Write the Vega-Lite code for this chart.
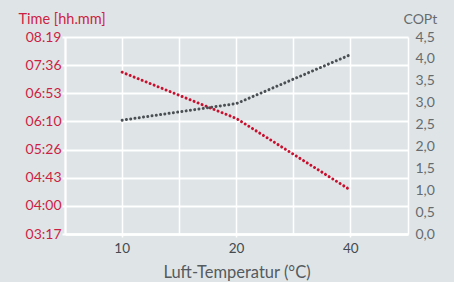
{
  "$schema": "https://vega.github.io/schema/vega-lite/v6.json",
  "width": 343,
  "height": 197,
  "autosize": "none",
  "padding": {"left": 65, "top": 37, "right": 46, "bottom": 48},
  "background": "#dfe5e7",
  "config": {
    "view": {"stroke": null},
    "font": "Lato",
    "axis": {"labelFont": "Lato", "titleFont": "Lato"}
  },
  "data": {
    "values": [
      {"temp": 10, "time": 445, "cop": 2.6},
      {"temp": 20, "time": 374, "cop": 2.98},
      {"temp": 40, "time": 264, "cop": 4.1}
    ]
  },
  "encoding": {
    "x": {
      "field": "temp",
      "type": "ordinal",
      "scale": {"type": "band", "paddingInner": 0, "paddingOuter": 0}
    }
  },
  "layer": [
    {
      "mark": {"type": "line", "color": "#c8102e", "strokeWidth": 3, "strokeCap": "round", "strokeDash": [0.01, 4.3]},
      "encoding": {
        "x": {
          "field": "temp",
          "type": "ordinal",
          "axis": {
            "orient": "bottom",
            "title": "Luft-Temperatur (°C)",
            "titleFontSize": 16.5,
            "titleFontWeight": "normal",
            "titleColor": "#555a5e",
            "titlePadding": 10,
            "labelAngle": 0,
            "labelFontSize": 13.5,
            "labelColor": "#444a4f",
            "labelPadding": 4,
            "domainColor": "#ffffff",
            "domainWidth": 2.5,
            "tickColor": "#ffffff",
            "tickSize": 3,
            "tickWidth": 1.5,
            "grid": true,
            "gridColor": "#ffffff",
            "gridWidth": 1.5
          }
        },
        "y": {
          "field": "time",
          "type": "quantitative",
          "scale": {"domain": [197, 499], "nice": false, "zero": false},
          "axis": {
            "orient": "left",
            "values": [197, 240, 283, 326, 370, 413, 456, 499],
            "labelExpr": "datum.value == 499 ? '08.19' : (floor(datum.value/60) < 10 ? '0' : '') + floor(datum.value/60) + ':' + (datum.value % 60 < 10 ? '0' : '') + (datum.value % 60)",
            "labelFontSize": 14,
            "labelColor": "#cc1f44",
            "labelPadding": 1,
            "title": "Time [hh.mm]",
            "titleAngle": 0,
            "titleAlign": "left",
            "titleBaseline": "alphabetic",
            "titleX": -47,
            "titleY": -14,
            "titleFontSize": 14.5,
            "titleFontWeight": "normal",
            "titleColor": "#cc1f44",
            "domainColor": "#ffffff",
            "domainWidth": 2,
            "tickColor": "#ffffff",
            "tickSize": 3,
            "tickWidth": 2,
            "grid": true,
            "gridColor": "#ffffff",
            "gridWidth": 2
          }
        }
      }
    },
    {
      "mark": {"type": "line", "color": "#4a4f54", "strokeWidth": 3, "strokeCap": "round", "strokeDash": [0.01, 4.3]},
      "encoding": {
        "x": {
          "field": "temp",
          "type": "ordinal",
          "axis": {
            "orient": "top",
            "bandPosition": 0,
            "labels": false,
            "ticks": false,
            "domain": false,
            "title": null,
            "grid": true,
            "gridColor": "#ffffff",
            "gridWidth": 1.5
          }
        },
        "y": {
          "field": "cop",
          "type": "quantitative",
          "scale": {"domain": [0, 4.5], "nice": false, "zero": true},
          "axis": {
            "orient": "right",
            "values": [0, 0.5, 1, 1.5, 2, 2.5, 3, 3.5, 4, 4.5],
            "labelExpr": "replace(format(datum.value, '.1f'), '.', ',')",
            "labelFontSize": 14,
            "labelColor": "#666b70",
            "labelPadding": 7,
            "ticks": false,
            "grid": false,
            "title": "COPt",
            "titleAngle": 0,
            "titleAlign": "left",
            "titleBaseline": "alphabetic",
            "titleX": -5,
            "titleY": -14,
            "titleFontSize": 14,
            "titleFontWeight": "normal",
            "titleColor": "#666b70",
            "domainColor": "#ffffff",
            "domainWidth": 1.5
          }
        }
      }
    }
  ],
  "resolve": {"scale": {"y": "independent"}, "axis": {"x": "independent", "y": "independent"}}
}
